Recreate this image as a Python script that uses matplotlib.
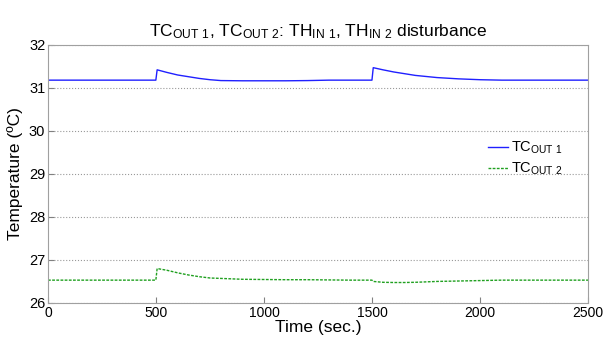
import numpy as np
import matplotlib.pyplot as plt

plt.rcParams['font.family'] = ['Liberation Sans', 'DejaVu Sans']
plt.rcParams['mathtext.default'] = 'regular'

t = [0, 499, 505, 550, 600, 650, 700, 750, 800, 900, 1000, 1100, 1200, 1300, 1400,
     1499, 1505, 1550, 1600, 1650, 1700, 1800, 1900, 2000, 2100, 2200, 2300, 2400, 2500]
tc_out1 = [31.18, 31.18, 31.42, 31.36, 31.30, 31.26, 31.22, 31.19, 31.17, 31.165, 31.165, 31.165,
           31.17, 31.18, 31.18, 31.18, 31.47, 31.42, 31.37, 31.33, 31.29, 31.24, 31.21, 31.19,
           31.18, 31.18, 31.18, 31.18, 31.18]
tc_out2 = [26.53, 26.53, 26.80, 26.76, 26.70, 26.65, 26.61, 26.58, 26.57, 26.55, 26.545, 26.54,
           26.54, 26.535, 26.53, 26.53, 26.50, 26.48, 26.475, 26.475, 26.48, 26.50, 26.51, 26.52,
           26.53, 26.53, 26.53, 26.53, 26.53]

fig = plt.figure(figsize=(6.03, 3.4), dpi=100)
ax = fig.add_axes([0.0796, 0.109, 0.896, 0.759])

ax.plot(t, tc_out1, color='#2020ff', lw=1.0, label='TC$_{OUT\\ 1}$')
ax.plot(t, tc_out2, color='#20a020', lw=1.0, ls=(0, (2, 1)), label='TC$_{OUT\\ 2}$')

ax.set_xlim(0, 2500)
ax.set_ylim(26, 32)
ax.set_xticks([0, 500, 1000, 1500, 2000, 2500])
ax.set_yticks([26, 27, 28, 29, 30, 31, 32])
ax.yaxis.grid(True, color='#999999', ls=':', lw=0.8)
ax.tick_params(direction='in', labelsize=10.5, length=4, color='#808080', pad=2)
ax.tick_params(axis='x', labelsize=10)
for s in ax.spines.values():
    s.set_color('#a0a0a0')

ax.set_xlabel('Time (sec.)', fontsize=12.5, labelpad=0)
ax.set_ylabel('Temperature (ºC)', fontsize=12.5, labelpad=4)
ax.set_title('TC$_{OUT\\ 1}$, TC$_{OUT\\ 2}$: TH$_{IN\\ 1}$, TH$_{IN\\ 2}$ disturbance', fontsize=12.5, pad=6)

ax.legend(loc='center left', bbox_to_anchor=(0.79, 0.56), frameon=False, fontsize=10.5,
          handlelength=1.4, handletextpad=0.2, labelspacing=0.3)

fig.savefig('out.png', dpi=100)
